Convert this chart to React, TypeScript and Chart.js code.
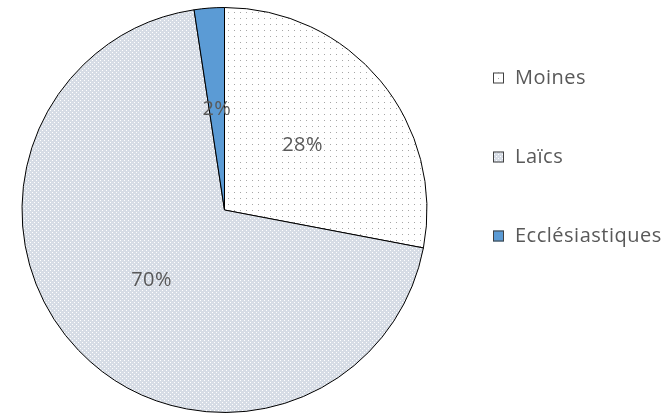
import React, { useEffect, useRef } from "react";
import { Chart, registerables } from "chart.js";

Chart.register(...registerables);

const categories = ["Moines", "Laïcs", "Ecclésiastiques"];
const values = [28, 69.6, 2.4];

const FONT = '"Open Sans", "Noto Sans", sans-serif';
const TEXT_COLOR = "#595959";

function makePattern(kind: string): CanvasPattern | string {
  const c = document.createElement("canvas");
  const ctx = c.getContext("2d")!;
  if (kind === "moines") {
    c.width = 6; c.height = 6;
    ctx.fillStyle = "#ffffff";
    ctx.fillRect(0, 0, 6, 6);
    ctx.fillStyle = "#a6a6a6";
    ctx.fillRect(0, 0, 1, 1);
  } else if (kind === "laics") {
    c.width = 4; c.height = 4;
    ctx.fillStyle = "#d6dce5";
    ctx.fillRect(0, 0, 4, 4);
    ctx.fillStyle = "#ffffff";
    ctx.fillRect(0, 0, 1, 1);
    ctx.fillRect(2, 2, 1, 1);
  } else {
    return "#5b9bd5";
  }
  return ctx.createPattern(c, "repeat")!;
}

const labelPlugin = {
  id: "sliceLabels",
  afterDatasetsDraw(chart: any) {
    const ctx = chart.ctx;
    const meta = chart.getDatasetMeta(0);
    const data: number[] = chart.data.datasets[0].data;
    const total = data.reduce((a, b) => a + b, 0);
    ctx.save();
    ctx.font = `20px ${FONT}`;
    (ctx as any).letterSpacing = "0.4px";
    ctx.fillStyle = TEXT_COLOR;
    ctx.textAlign = "center";
    ctx.textBaseline = "middle";
    meta.data.forEach((arc: any, i: number) => {
      const p = arc.getProps(["x", "y", "startAngle", "endAngle", "outerRadius"], true);
      const mid = (p.startAngle + p.endAngle) / 2;
      const r = p.outerRadius * 0.5;
      const txt = Math.round((data[i] / total) * 100) + "%";
      ctx.fillText(txt, p.x + Math.cos(mid) * r, p.y + Math.sin(mid) * r);
    });
    ctx.restore();
  },
};

const legendPlugin = {
  id: "sideLegend",
  afterDraw(chart: any) {
    const ctx = chart.ctx;
    const ds = chart.data.datasets[0];
    const x0 = 493;
    const y0 = 78;
    const step = 79;
    ctx.save();
    ctx.font = `20px ${FONT}`;
    (ctx as any).letterSpacing = "0.5px";
    ctx.textBaseline = "middle";
    ctx.textAlign = "left";
    chart.data.labels.forEach((lab: string, i: number) => {
      const y = y0 + i * step;
      ctx.fillStyle = ds.backgroundColor[i];
      ctx.fillRect(x0, y - 5.5, 11, 11);
      ctx.strokeStyle = "#404040";
      ctx.lineWidth = 1;
      ctx.strokeRect(x0 + 0.5, y - 5.5 + 0.5, 10, 10);
      ctx.fillStyle = TEXT_COLOR;
      ctx.fillText(lab, x0 + 22, y);
    });
    ctx.restore();
  },
};

export default function App() {
  const ref = useRef<HTMLCanvasElement | null>(null);
  useEffect(() => {
    if (!ref.current) return;
    const bg = [makePattern("moines"), makePattern("laics"), makePattern("eccl")];
    const chart = new Chart(ref.current, {
      type: "pie",
      data: {
        labels: categories,
        datasets: [
          {
            data: values,
            backgroundColor: bg as any,
            borderColor: "#000000",
            borderWidth: 1,
          },
        ],
      },
      options: {
        animation: false,
        responsive: true,
        maintainAspectRatio: false,
        layout: { padding: { top: 7, bottom: 1, left: 0, right: 223 } },
        plugins: {
          legend: { display: false },
          tooltip: { enabled: false },
        },
      },
      plugins: [labelPlugin, legendPlugin],
    });
    return () => chart.destroy();
  }, []);
  return (
    <div style={{ position: "fixed", left: 0, top: 0, width: 672, height: 414, background: "#fff" }}>
      <canvas ref={ref} />
    </div>
  );
}
